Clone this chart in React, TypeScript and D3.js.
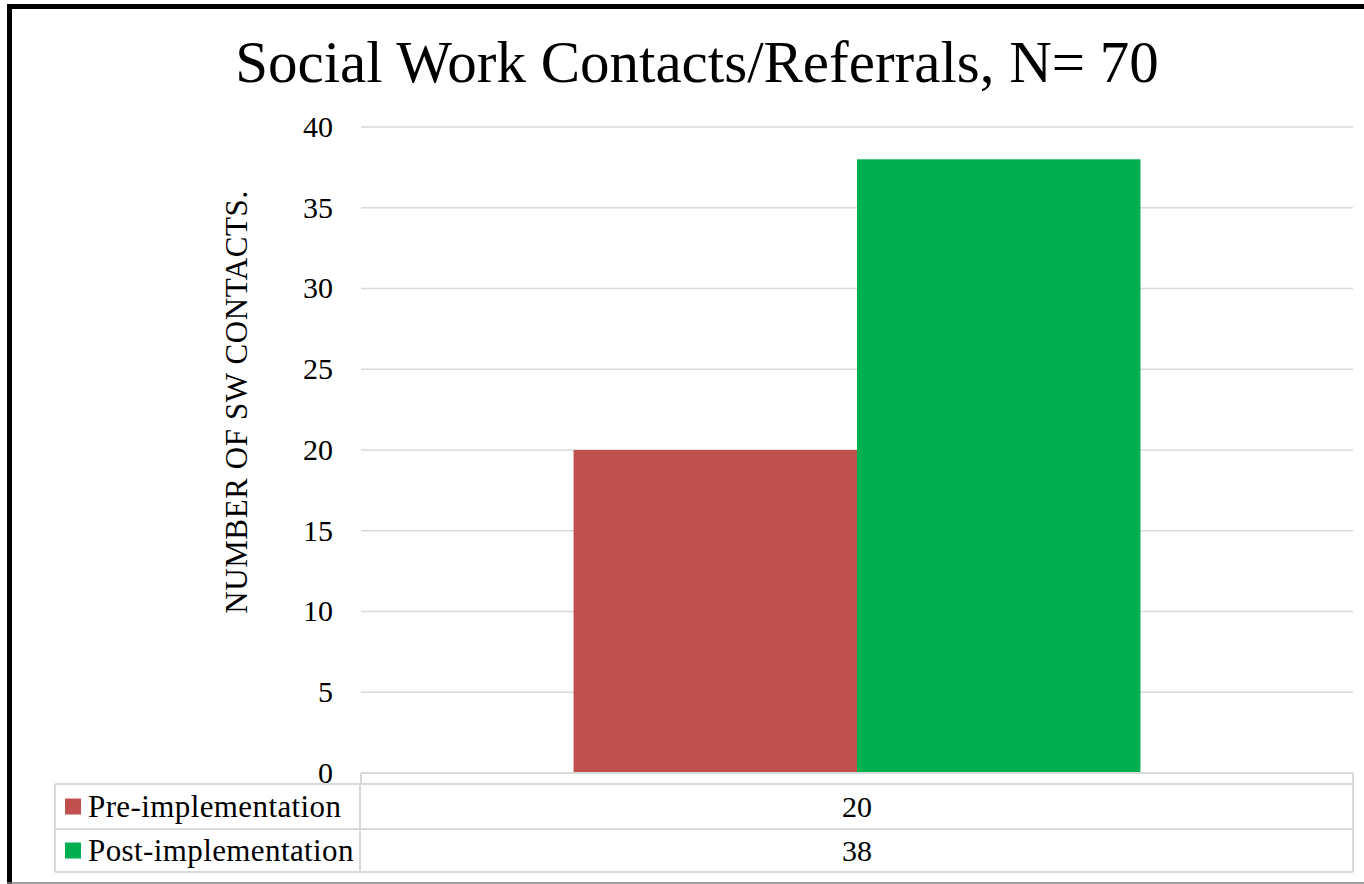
import React from "react";
import * as d3 from "d3";

const title = "Social Work Contacts/Referrals, N= 70";
const yAxisLabel = "NUMBER OF SW CONTACTS.";
const categories = [""];
const seriesNames = ["Pre-implementation", "Post-implementation"];
const seriesValues = [[20], [38]];
const seriesColors = ["#C0504D", "#00B050"];
const yTicks = [0, 5, 10, 15, 20, 25, 30, 35, 40];

const W = 1364;
const H = 884;
const plotL = 361;
const plotR = 1353;
const plotT = 127;
const plotB = 773;
const font = "'Liberation Serif', 'Times New Roman', serif";

export default function App() {
  const y = d3.scaleLinear().domain([0, 40]).range([plotB, plotT]);
  const x0 = d3
    .scaleBand<string>()
    .domain(categories)
    .range([plotL, plotR])
    .paddingInner(0)
    .paddingOuter(0.375);
  const x1 = d3
    .scaleBand<string>()
    .domain(seriesNames)
    .range([0, x0.bandwidth()])
    .padding(0);

  const tableL = 55;
  const tableColX = 360;
  const headerT = plotB;
  const row1T = 784;
  const row2T = 829;
  const tableB = 872;
  const rowTops = [row1T, row2T];
  const rowH = [row2T - row1T, tableB - row2T];
  const gridStroke = "#D9D9D9";

  return (
    <svg
      width={W}
      height={H}
      style={{ position: "absolute", left: 0, top: 0, background: "#fff" }}
    >
      <rect x={0} y={0} width={W} height={H} fill="#fff" />
      {/* outer frame */}
      <line x1={7} x2={W} y1={6.5} y2={6.5} stroke="#000" strokeWidth={5} />
      <line x1={9.5} x2={9.5} y1={4} y2={H} stroke="#000" strokeWidth={5} />
      <line x1={7} x2={W} y1={883} y2={883} stroke="#808080" strokeWidth={1.5} />

      {/* title */}
      <text
        x={697}
        y={82}
        textAnchor="middle"
        fontFamily={font}
        fontSize={59}
        fill="#000"
      >
        {title}
      </text>

      {/* gridlines */}
      {yTicks.map((t) => (
        <line
          key={"g" + t}
          x1={plotL}
          x2={plotR}
          y1={y(t)}
          y2={y(t)}
          stroke={gridStroke}
          strokeWidth={1.5}
        />
      ))}

      {/* tick labels */}
      {yTicks.map((t) => (
        <text
          key={"t" + t}
          x={333}
          y={y(t)}
          dy="0.33em"
          textAnchor="end"
          fontFamily={font}
          fontSize={30}
          fill="#000"
        >
          {t}
        </text>
      ))}

      {/* y axis label */}
      <text
        transform={`translate(247, 402) rotate(-90)`}
        textAnchor="middle"
        fontFamily={font}
        fontSize={31}
        letterSpacing={0.6}
        fill="#000"
      >
        {yAxisLabel}
      </text>

      {/* bars */}
      {categories.map((c, ci) =>
        seriesNames.map((s, si) => (
          <rect
            key={c + s}
            x={(x0(c) as number) + (x1(s) as number)}
            y={y(seriesValues[si][ci])}
            width={x1.bandwidth()}
            height={y(0) - y(seriesValues[si][ci])}
            fill={seriesColors[si]}
          />
        ))
      )}

      {/* data table */}
      <g fill="none" stroke={gridStroke} strokeWidth={2}>
        <line x1={plotL} x2={plotR} y1={headerT} y2={headerT} />
        <line x1={plotL} x2={plotL} y1={headerT} y2={row1T} />
        <line x1={plotR} x2={plotR} y1={headerT} y2={tableB} />
        <line x1={tableL} x2={plotR} y1={row1T} y2={row1T} />
        <line x1={tableL} x2={plotR} y1={row2T} y2={row2T} />
        <line x1={tableL} x2={plotR} y1={tableB} y2={tableB} />
        <line x1={tableL} x2={tableL} y1={row1T} y2={tableB} />
        <line x1={tableColX} x2={tableColX} y1={row1T} y2={tableB} />
      </g>
      {seriesNames.map((s, si) => {
        const top = rowTops[si];
        const mid = top + rowH[si] / 2;
        return (
          <g key={"row" + s}>
            <rect x={65} y={mid - 8} width={16} height={16} fill={seriesColors[si]} />
            <text
              x={88}
              y={mid}
              dy="0.35em"
              fontFamily={font}
              fontSize={31}
              letterSpacing={0.4}
              fill="#000"
            >
              {s}
            </text>
            {categories.map((c, ci) => (
              <text
                key={"v" + c}
                x={(x0(c) as number) + x0.bandwidth() / 2}
                y={mid}
                dy="0.35em"
                textAnchor="middle"
                fontFamily={font}
                fontSize={30}
                fill="#000"
              >
                {seriesValues[si][ci]}
              </text>
            ))}
          </g>
        );
      })}
    </svg>
  );
}
